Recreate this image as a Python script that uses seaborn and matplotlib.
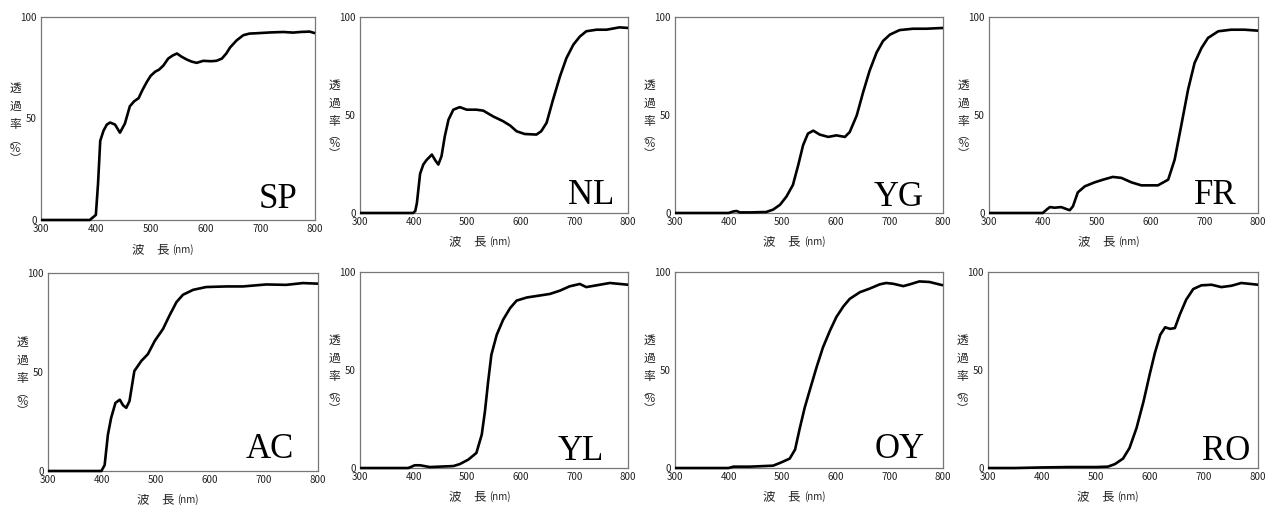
import matplotlib
matplotlib.use("Agg")
import matplotlib.pyplot as plt
import seaborn as sns
import pandas as pd

# ---------------- data ----------------
names = ["SP", "NL", "YG", "FR", "AC", "YL", "OY", "RO"]

sp_nm = [300, 350, 389, 400, 404, 408, 414, 420, 426, 435, 444, 453, 462, 470, 478, 485, 493, 500, 508, 515, 523, 532, 540, 548, 556, 566, 575, 584, 596, 610, 620, 630, 638, 645, 657, 669, 680, 694, 720, 742, 760, 773, 790, 800]
sp_t  = [0, 0, 0, 2.5, 18, 39, 44, 47, 48, 47, 43, 47.5, 56, 58.5, 60, 64, 68, 71, 73, 74, 76, 79.5, 81, 82, 80.5, 79, 78, 77.4, 78.4, 78.2, 78.4, 79.5, 82, 85, 88.5, 91, 91.8, 92, 92.4, 92.6, 92.3, 92.6, 92.8, 92]

nl_nm = [300, 350, 399, 403, 406, 412, 418, 424, 434, 440, 446, 452, 458, 465, 474, 486, 499, 517, 530, 548, 567, 580, 592, 607, 629, 638, 648, 660, 673, 685, 698, 710, 722, 741, 760, 784, 800]
nl_t  = [0, 0, 0, 1, 5, 20, 24.7, 27, 29.8, 27, 24.7, 29, 39, 47.6, 52.7, 54, 52.7, 52.7, 52.2, 49.3, 46.8, 44.6, 41.7, 40.3, 40, 41.7, 46, 57.8, 69.7, 79, 85.9, 90, 92.7, 93.5, 93.5, 94.7, 94.4]

yg_nm = [300, 350, 400, 409, 415, 421, 440, 470, 483, 496, 508, 520, 530, 539, 548, 558, 570, 586, 601, 617, 626, 639, 651, 663, 676, 688, 701, 719, 744, 769, 800]
yg_t  = [0, 0, 0, 0.8, 1, 0.3, 0.3, 0.5, 1.7, 4.2, 8.4, 14.3, 24.5, 34.6, 40.5, 42, 40, 38.8, 39.6, 38.8, 41.3, 49.7, 61.6, 72.5, 81.8, 87.7, 91, 93.3, 94, 94, 94.4]

fr_nm = [300, 350, 400, 407, 413, 422, 434, 444, 450, 456, 465, 478, 496, 512, 530, 546, 565, 583, 614, 633, 645, 657, 670, 682, 695, 707, 726, 750, 775, 800]
fr_t  = [0, 0, 0, 1.7, 3, 2.7, 3, 2, 1.4, 3.4, 10.5, 13.6, 15.6, 17, 18.4, 17.9, 15.6, 14.1, 14.1, 17, 27.2, 44.2, 63, 76.5, 84.2, 89.3, 92.7, 93.5, 93.5, 93]

ac_nm = [300, 350, 399, 405, 411, 417, 425, 433, 439, 445, 451, 460, 473, 485, 498, 513, 525, 538, 550, 569, 593, 630, 661, 704, 741, 772, 800]
ac_t  = [0, 0, 0, 3, 18.3, 26.8, 34.4, 36, 33.2, 31.9, 35.3, 50.5, 55.6, 59, 65.8, 71.7, 78.5, 85.3, 89, 91.5, 92.9, 93.2, 93.2, 94.2, 94, 94.9, 94.6]

yl_nm = [300, 350, 390, 402, 412, 430, 474, 486, 502, 517, 527, 533, 539, 545, 555, 567, 580, 592, 611, 635, 654, 673, 691, 710, 722, 741, 766, 800]
yl_t  = [0, 0, 0, 1.4, 1.4, 0.5, 1, 2, 4.3, 7.7, 17, 28.9, 44.2, 57.8, 68, 75.7, 81.6, 85.4, 87, 88, 88.8, 90.5, 92.7, 93.9, 92.3, 93.2, 94.4, 93.5]

oy_nm = [300, 350, 400, 409, 440, 483, 496, 514, 524, 533, 542, 552, 564, 576, 589, 601, 614, 626, 645, 663, 682, 694, 707, 726, 738, 756, 775, 800]
oy_t  = [0, 0, 0, 0.7, 0.7, 1.2, 2.6, 4.8, 9.4, 20.5, 30.8, 40.2, 51.3, 61.5, 70, 77, 82.4, 86.3, 89.7, 91.5, 93.7, 94.4, 94, 92.8, 93.7, 95.2, 94.9, 93.2]

ro_nm = [300, 350, 400, 450, 500, 522, 535, 550, 562, 575, 588, 600, 609, 619, 628, 637, 646, 655, 667, 680, 695, 714, 732, 751, 769, 800]
ro_t  = [0, 0, 0.3, 0.5, 0.5, 0.7, 2, 4.8, 10.2, 20.4, 34, 48.5, 58.7, 68, 71.8, 71, 71.4, 78.2, 85.9, 91.3, 93.2, 93.5, 92.3, 93, 94.4, 93.5]

x_ticks = [300, 400, 500, 600, 700, 800]
y_ticks = [0, 50, 100]
x_label_main = "波　長"
x_label_unit = "(nm)"
y_label_chars = "透\n過\n率"
y_label_unit = "︵\n%\n︶"

series = {
    "SP": (sp_nm, sp_t), "NL": (nl_nm, nl_t), "YG": (yg_nm, yg_t), "FR": (fr_nm, fr_t),
    "AC": (ac_nm, ac_t), "YL": (yl_nm, yl_t), "OY": (oy_nm, oy_t), "RO": (ro_nm, ro_t),
}

# ---------------- layout ----------------
rects = {
    "SP": [0.0322, 0.5695, 0.2149, 0.3973],
    "NL": [0.2824, 0.5832, 0.2102, 0.3836],
    "YG": [0.5294, 0.5832, 0.2102, 0.3836],
    "FR": [0.7757, 0.5832, 0.2110, 0.3836],
    "AC": [0.0376, 0.0783, 0.2118, 0.3875],
    "YL": [0.2824, 0.0841, 0.2102, 0.3836],
    "OY": [0.5294, 0.0841, 0.2102, 0.3836],
    "RO": [0.7749, 0.0841, 0.2118, 0.3836],
}
name_pos = {
    "SP": (0.934, 0.06), "NL": (0.95, 0.046), "YG": (0.93, 0.035), "FR": (0.92, 0.046),
    "AC": (0.91, 0.066), "YL": (0.91, 0.04), "OY": (0.93, 0.05), "RO": (0.97, 0.04),
}

sns.set_theme(style="white")
plt.rcParams["font.family"] = ["Noto Sans CJK JP", "DejaVu Sans"]

fig = plt.figure(figsize=(12.75, 5.11), dpi=100)
fig.patch.set_facecolor("white")

for name in names:
    ax = fig.add_axes(rects[name])
    nm, t = series[name]
    df = pd.DataFrame({"nm": nm, "t": t})
    sns.lineplot(data=df, x="nm", y="t", ax=ax, color="black", linewidth=1.9,
                 sort=False, estimator=None)
    for ln in ax.lines:
        ln.set_clip_on(False)
        ln.set_zorder(4)
        ln.set_solid_joinstyle("round")
        ln.set_solid_capstyle("butt")
    ax.set_xlim(300, 800)
    ax.set_ylim(0, 100)
    ax.set_xticks(x_ticks)
    ax.set_yticks(y_ticks)
    ax.set_xticklabels([str(v) for v in x_ticks], fontsize=7, color="#222222")
    ax.set_yticklabels([str(v) for v in y_ticks], fontsize=7, color="#222222")
    ax.tick_params(axis="both", length=0, pad=3)
    for s in ax.spines.values():
        s.set_color("#777777")
        s.set_linewidth(0.9)
    ax.set_xlabel("")
    ax.set_ylabel("")
    ax.grid(False)
    # x label
    ax.text(0.47, -0.145, x_label_main, transform=ax.transAxes, ha="right", va="center",
            fontsize=9, color="#222222")
    ax.text(0.48, -0.145, x_label_unit, transform=ax.transAxes, ha="left", va="center",
            fontsize=7, color="#222222")
    # y label (vertical writing)
    ax.text(-0.095, 0.56, y_label_chars, transform=ax.transAxes, ha="center", va="center",
            fontsize=8.5, linespacing=1.5, color="#222222")
    ax.text(-0.095, 0.35, y_label_unit, transform=ax.transAxes, ha="center", va="center",
            fontsize=8, linespacing=0.85, color="#222222")
    # filter name
    px, py = name_pos[name]
    ax.text(px, py, name, transform=ax.transAxes, ha="right", va="baseline",
            fontsize=25, family="Liberation Serif", color="black")

fig.savefig("out.png", dpi=100, facecolor="white")
